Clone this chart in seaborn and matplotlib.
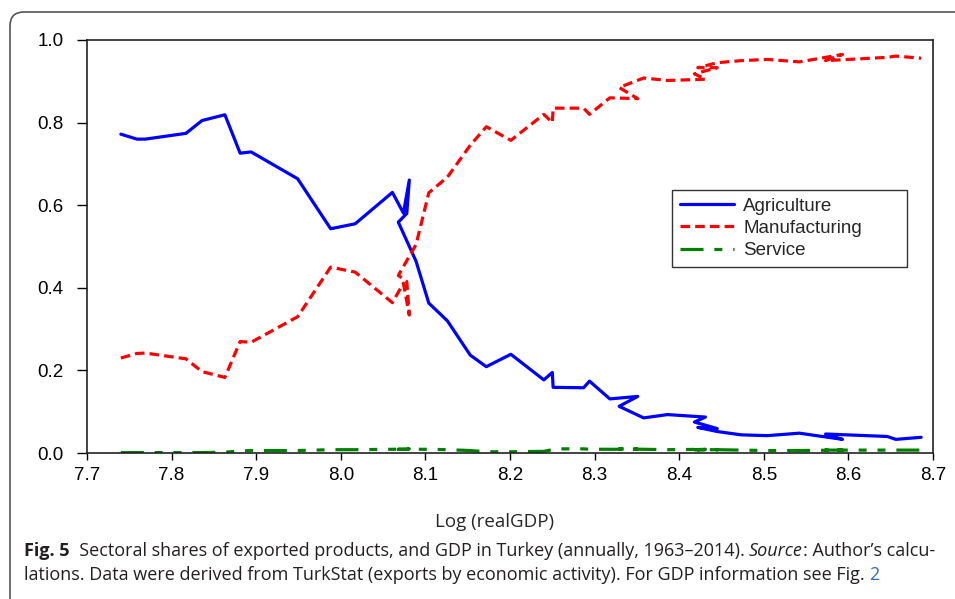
import seaborn as sns
import pandas as pd
import matplotlib.pyplot as plt
from matplotlib import font_manager
from matplotlib.patches import FancyBboxPatch
from matplotlib.lines import Line2D

# data (ordered by year, x backtracks)
log_gdp = [7.740, 7.759, 7.769, 7.817, 7.836, 7.863, 7.881, 7.894, 7.949, 7.988,
           8.017, 8.061, 8.074, 8.081, 8.078, 8.068, 8.089, 8.104, 8.126, 8.153,
           8.172, 8.201, 8.240, 8.250, 8.251, 8.287, 8.294, 8.318, 8.351, 8.329,
           8.358, 8.386, 8.431, 8.418, 8.445, 8.422, 8.445, 8.473, 8.504, 8.542,
           8.593, 8.573, 8.646, 8.656, 8.686]
agriculture = [0.772, 0.760, 0.760, 0.774, 0.805, 0.819, 0.726, 0.729, 0.664, 0.543,
               0.555, 0.631, 0.581, 0.661, 0.580, 0.559, 0.464, 0.363, 0.320, 0.237,
               0.209, 0.239, 0.177, 0.195, 0.159, 0.158, 0.174, 0.131, 0.137, 0.113,
               0.085, 0.093, 0.087, 0.075, 0.059, 0.062, 0.052, 0.044, 0.042, 0.048,
               0.033, 0.046, 0.040, 0.033, 0.038]
manufacturing = [0.230, 0.241, 0.242, 0.228, 0.197, 0.183, 0.270, 0.268, 0.330, 0.450,
                 0.438, 0.364, 0.411, 0.334, 0.415, 0.430, 0.505, 0.630, 0.668, 0.745,
                 0.790, 0.757, 0.820, 0.800, 0.835, 0.835, 0.820, 0.860, 0.858, 0.885,
                 0.908, 0.902, 0.905, 0.918, 0.933, 0.933, 0.945, 0.950, 0.953, 0.947,
                 0.965, 0.950, 0.958, 0.961, 0.956]
service = [0.001, 0.001, 0.001, 0.001, 0.001, 0.002, 0.005, 0.006, 0.006, 0.008,
           0.008, 0.009, 0.009, 0.010, 0.009, 0.009, 0.009, 0.009, 0.008, 0.006,
           0.003, 0.003, 0.004, 0.008, 0.010, 0.010, 0.009, 0.009, 0.009, 0.010,
           0.009, 0.008, 0.009, 0.008, 0.008, 0.008, 0.008, 0.007, 0.006, 0.006,
           0.007, 0.007, 0.007, 0.007, 0.007]
sectors = ['Agriculture', 'Manufacturing', 'Service']
x_ticks = [7.7, 7.8, 7.9, 8.0, 8.1, 8.2, 8.3, 8.4, 8.5, 8.6, 8.7]
y_ticks = [0.0, 0.2, 0.4, 0.6, 0.8, 1.0]

rows = []
for name, vals in zip(sectors, [agriculture, manufacturing, service]):
    for i, (x, v) in enumerate(zip(log_gdp, vals)):
        rows.append({'step': i, 'lgdp': x, 'share': v, 'sector': name})
df = pd.DataFrame(rows)

# L1 style
sns.set_style('ticks')
plt.rcParams['font.family'] = ['Liberation Sans', 'DejaVu Sans']

names = {f.name for f in font_manager.fontManager.ttflist}
cap_font = 'Liberation Sans Narrow' if 'Liberation Sans Narrow' in names else 'Open Sans'

fig = plt.figure(figsize=(9.55, 5.99), dpi=100)
ax = fig.add_axes([87 / 955, 146 / 599, 846 / 955, 413 / 599])

pal = {'Agriculture': '#0000ff', 'Manufacturing': '#ff0000', 'Service': '#008000'}
dash = {'Agriculture': '', 'Manufacturing': (3.0, 1.6),
        'Service': (7.2, 3.4, 2.5, 3.4, 2.5, 3.4)}
lw = 2.3

sns.lineplot(data=df, x='lgdp', y='share', hue='sector', style='sector',
             palette=pal, dashes=dash, sort=False, estimator=None, units='sector',
             linewidth=lw, legend=False, ax=ax)

# axes
ax.set_xlim(7.7, 8.7)
ax.set_ylim(0, 1.0)
ax.set_xticks(x_ticks)
ax.set_xticklabels([f'{t:.1f}' for t in x_ticks])
ax.set_yticks(y_ticks)
ax.set_yticklabels([f'{t:.1f}' for t in y_ticks])
ax.tick_params(axis='y', length=7, width=1, labelsize=13.5, pad=10, colors='black')
ax.tick_params(axis='x', length=5, width=1, labelsize=13.5, pad=5, colors='black')
for s in ax.spines.values():
    s.set_visible(True)
    s.set_linewidth(1.2)
    s.set_color('#222222')
ax.set_xlabel('')
ax.set_ylabel('')

# legend
handles = [Line2D([], [], color=pal[s], linewidth=lw, dashes=dash[s]) for s in sectors]
leg = ax.legend(handles, sectors, loc='upper left', bbox_to_anchor=(0.6915, 0.455, 0.2778, 0.182),
                mode='expand', fontsize=13.5, frameon=True, fancybox=False, handlelength=2.9,
                handletextpad=0.5, labelspacing=0.28, borderpad=0.4, borderaxespad=0)
leg.get_frame().set_edgecolor('black')
leg.get_frame().set_linewidth(1.0)

# x title
fig.text(495 / 955, 1 - 522 / 599, 'Log (realGDP)', ha='center', va='center',
         fontsize=13.5, family=cap_font)

# figure border (rounded caption box)
box = FancyBboxPatch((10 / 100, -40 / 100), 10.5, (599 - 12 + 40) / 100,
                     boxstyle='round,pad=0,rounding_size=0.14',
                     transform=fig.dpi_scale_trans, fill=False,
                     edgecolor='#555555', linewidth=1.2)
fig.patches.append(box)

# caption
fig.canvas.draw()
rend = fig.canvas.get_renderer()


def put_line(pieces, x0, y0):
    x = x0
    for txt, kw in pieces:
        opts = {'color': '#231f20'}
        opts.update(kw)
        t = fig.text(x / 955, 1 - y0 / 599, txt, ha='left', va='baseline', fontsize=13,
                     family=cap_font, **opts)
        x += t.get_window_extent(rend).width


put_line([('Fig. 5', {'weight': 'bold'}),
          ('  Sectoral shares of exported products, and GDP in Turkey (annually, 1963\u20132014). ', {}),
          ('Source', {'style': 'italic'}),
          (': Author\u2019s calcu-', {})], 24, 556)
put_line([('lations. Data were derived from TurkStat (exports by economic activity). For GDP information see Fig. ', {}),
          ('2', {'color': '#2f6fb5'})], 24, 580)

fig.savefig('out.png', dpi=100)
